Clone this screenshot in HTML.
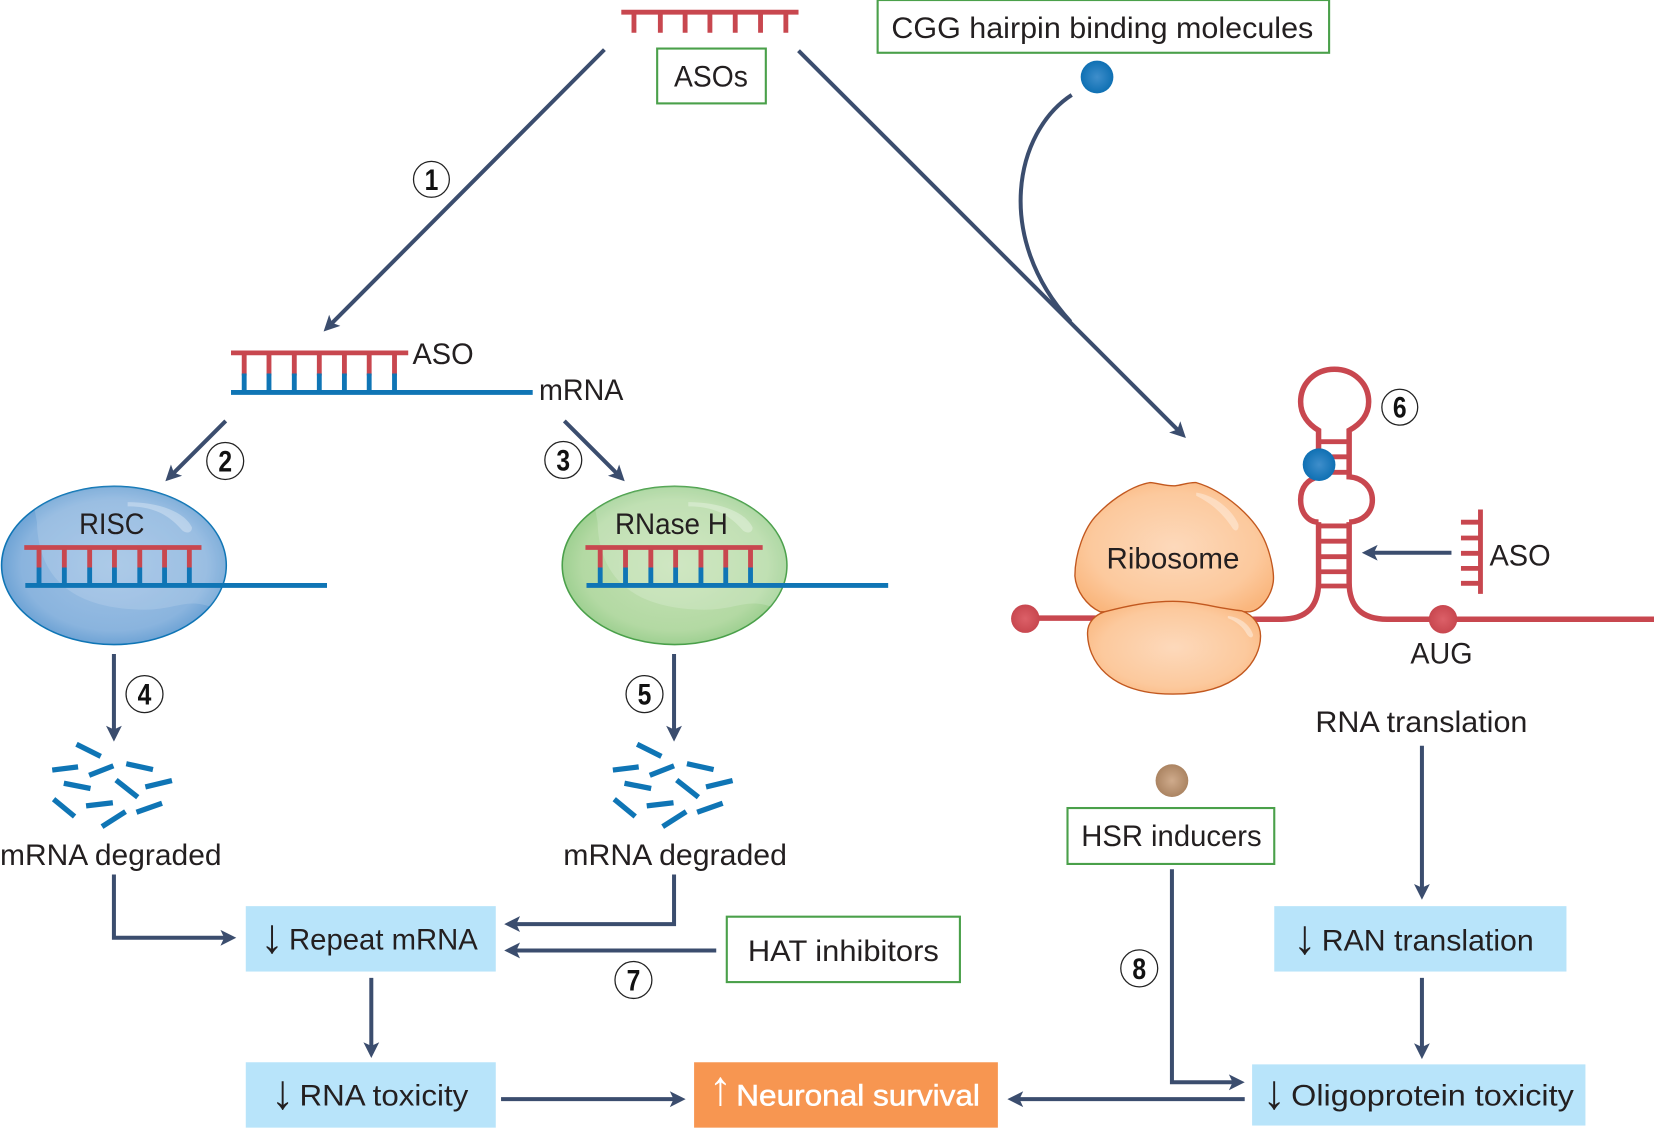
<!DOCTYPE html>
<html>
<head>
<meta charset="utf-8">
<title>ASO diagram</title>
<style>
html,body{margin:0;padding:0;background:#fff;}
svg{display:block;}
text{font-family:"Liberation Sans",sans-serif;font-size:28.5px;fill:#231f20;}
.ar{font-size:46px;}
.n{font-weight:bold;font-size:28px;text-anchor:middle;fill:#111;}
.c{fill:#fff;stroke:#222;stroke-width:1.2;}
.a{fill:none;stroke:#3b4d6e;stroke-width:3.8;marker-end:url(#h);}
.a2{fill:none;stroke:#3b4d6e;stroke-width:3.8;}
.r{stroke:#c8474f;fill:none;stroke-width:4.6;}
.rr{stroke:#c8474f;fill:none;stroke-width:5.2;}
.b{stroke:#0f75b5;fill:none;stroke-width:4.6;}
.g{fill:#fff;stroke:#4aa04a;stroke-width:2;}
</style>
</head>
<body>
<svg width="1654" height="1128" viewBox="0 0 1568 1069.3" xmlns="http://www.w3.org/2000/svg">
<defs>
<marker id="h" markerUnits="userSpaceOnUse" markerWidth="24" markerHeight="24" viewBox="-2 -12 24 24" refX="9" refY="0" orient="auto">
<path d="M0,-7.5 L15,0 L0,7.5 L3.5,0 Z" fill="#3b4d6e"/>
</marker>
<radialGradient id="bl" cx="50%" cy="50%" r="55%">
<stop offset="0" stop-color="#a0c2e5"/><stop offset="0.75" stop-color="#8ab4de"/><stop offset="1" stop-color="#5f9ad0"/>
</radialGradient>
<radialGradient id="gr" cx="50%" cy="50%" r="55%">
<stop offset="0" stop-color="#c6e2b6"/><stop offset="0.75" stop-color="#b3d9a3"/><stop offset="1" stop-color="#93cb88"/>
</radialGradient>
<radialGradient id="or" cx="50%" cy="50%" r="60%">
<stop offset="0" stop-color="#fdd9bb"/><stop offset="0.7" stop-color="#fcc99d"/><stop offset="1" stop-color="#fab67d"/>
</radialGradient>
<radialGradient id="ball" cx="50%" cy="50%" r="50%">
<stop offset="0" stop-color="#3f8ecb"/><stop offset="1" stop-color="#0f70b3"/>
</radialGradient>
<radialGradient id="redb" cx="50%" cy="50%" r="50%">
<stop offset="0" stop-color="#dc6068"/><stop offset="1" stop-color="#c8474f"/>
</radialGradient>
<radialGradient id="tan" cx="50%" cy="50%" r="50%">
<stop offset="0" stop-color="#cfab8c"/><stop offset="1" stop-color="#ab8462"/>
</radialGradient>
<clipPath id="ec"><ellipse cx="108" cy="536" rx="106" ry="75"/></clipPath>

<g id="duplex">
<path class="b" d="M24,555 H310"/>
<path class="r" d="M23,519 H191"/>
<path class="r" d="M37,519 V538 M61,519 V538 M85,519 V538 M108.500,519 V538 M132.500,519 V538 M156,519 V538 M179.500,519 V538"/>
<path class="b" d="M37,538 V555 M61,538 V555 M85,538 V555 M108.500,538 V555 M132.500,538 V555 M156,538 V555 M179.500,538 V555"/>
</g>
<g id="frag" stroke="#0f75b5" stroke-width="5" fill="none">
<path d="M72.500,705.500 L95.500,717 M49.500,730 L74,727 M84.500,735 L107.500,726 M119.700,724 L145,729.500 M60.500,742.500 L85.800,747.500 M110,739.500 L130.600,755.700 M137.800,746 L163,740 M50.800,757.600 L70.700,774 M81.600,764 L107,761 M129.400,770 L153.600,761.500 M96.700,783.600 L119,769.400"/>
</g>
</defs>

<!-- Top ASO -->
<path class="r" d="M589,11.500 H757"/>
<path class="r" d="M601,11 V31 M626,11 V31 M649.500,11 V31 M673,11 V31 M697,11 V31 M721,11 V31 M745,11 V31"/>
<rect class="g" x="623" y="46" width="103" height="52"/>
<text x="639" y="82" textLength="70" lengthAdjust="spacingAndGlyphs">ASOs</text>
<rect class="g" x="832" y="0" width="428" height="50"/>
<text x="845" y="36" textLength="400" lengthAdjust="spacingAndGlyphs">CGG hairpin binding molecules</text>
<ellipse cx="1040" cy="73" rx="15.500" ry="15.500" fill="url(#ball)"/>

<!-- Long arrows -->
<path class="a" d="M573,47 L311,310"/>
<path class="a" d="M757,48 L1120,411"/>
<path class="a2" d="M1016,90 C962,125 942,225 1015,305"/>

<circle class="c" cx="409" cy="170" r="17"/><text class="n" x="409" y="180" textLength="13" lengthAdjust="spacingAndGlyphs">1</text>

<!-- ASO/mRNA duplex -->
<path class="b" d="M219,372 H505"/>
<path class="r" d="M219,334.500 H387"/>
<path class="r" d="M231.500,334 V356 M255,334 V356 M279,334 V356 M302.700,334 V356 M326.500,334 V356 M350,334 V356 M374,334 V356"/>
<path class="b" d="M231.500,354 V372 M255,354 V372 M279,354 V372 M302.700,354 V372 M326.500,354 V372 M350,354 V372 M374,354 V372"/>
<text x="391" y="345" textLength="58" lengthAdjust="spacingAndGlyphs">ASO</text>
<text x="511" y="379" textLength="80" lengthAdjust="spacingAndGlyphs">mRNA</text>

<path class="a" d="M214,399 L161,452"/>
<path class="a" d="M535,399 L588,452"/>
<circle class="c" cx="213.500" cy="437" r="17.500"/><text class="n" x="213.500" y="447" textLength="13" lengthAdjust="spacingAndGlyphs">2</text>
<circle class="c" cx="534" cy="436" r="17.500"/><text class="n" x="534" y="446" textLength="13" lengthAdjust="spacingAndGlyphs">3</text>

<!-- RISC -->
<ellipse cx="108" cy="536" rx="106.500" ry="75" fill="url(#bl)" stroke="#0f75b5" stroke-width="1.500"/>
<g clip-path="url(#ec)">
<path d="M35,495 C36,540 60,577 136,578 C165,578 175,568 196,574 L240,590 L240,440 L25,440 Z" fill="#fff" opacity="0.14"/>
<path d="M121,476 C150,476 175,485 182,500 C182,506 175,506 172,502 C160,488 145,480 121,480 Z" fill="#fff" opacity="0.3"/>
</g>
<use href="#duplex"/>
<text x="75" y="506" textLength="62" lengthAdjust="spacingAndGlyphs">RISC</text>

<!-- RNase H -->
<ellipse cx="639.500" cy="536" rx="106.500" ry="75" fill="url(#gr)" stroke="#4aa04a" stroke-width="1.500"/>
<g clip-path="url(#ec)" transform="translate(531.500,0)">
<path d="M35,495 C36,540 60,577 136,578 C165,578 175,568 196,574 L240,590 L240,440 L25,440 Z" fill="#fff" opacity="0.18"/>
<path d="M121,476 C150,476 175,485 182,500 C182,506 175,506 172,502 C160,488 145,480 121,480 Z" fill="#fff" opacity="0.3"/>
</g>
<use href="#duplex" transform="translate(532,0)"/>
<text x="583" y="506" textLength="107" lengthAdjust="spacingAndGlyphs">RNase H</text>

<path class="a" d="M108,620 V697"/>
<path class="a" d="M639,620 V697"/>
<circle class="c" cx="137" cy="658" r="17.500"/><text class="n" x="137" y="668" textLength="13" lengthAdjust="spacingAndGlyphs">4</text>
<circle class="c" cx="611" cy="658" r="17.500"/><text class="n" x="611" y="668" textLength="13" lengthAdjust="spacingAndGlyphs">5</text>

<use href="#frag"/>
<use href="#frag" transform="translate(531.500,0)"/>
<text x="0" y="820" textLength="210" lengthAdjust="spacingAndGlyphs">mRNA degraded</text>
<text x="534" y="820" textLength="212" lengthAdjust="spacingAndGlyphs">mRNA degraded</text>

<!-- boxes -->
<rect x="233" y="859" width="237" height="62" fill="#b8e4fa"/>
<rect x="233" y="1007" width="237" height="62" fill="#b8e4fa"/>
<rect x="658" y="1007" width="288" height="62" fill="#f79651"/>
<rect x="1187" y="1009" width="316" height="58" fill="#b8e4fa"/>
<rect x="1208" y="859" width="277" height="62" fill="#b8e4fa"/>
<rect class="g" x="689" y="869" width="221" height="62"/>
<rect class="g" x="1012" y="766" width="196" height="53"/>

<text class="ar" x="247" y="903" textLength="22" lengthAdjust="spacingAndGlyphs">↓</text>
<text x="274" y="900" textLength="179" lengthAdjust="spacingAndGlyphs">Repeat mRNA</text>
<text class="ar" x="257" y="1051" textLength="22" lengthAdjust="spacingAndGlyphs">↓</text>
<text x="284" y="1048" textLength="160" lengthAdjust="spacingAndGlyphs">RNA toxicity</text>
<text class="ar" x="672" y="1047" textLength="22" lengthAdjust="spacingAndGlyphs" style="fill:#fff">↑</text>
<text x="698" y="1048" textLength="231" lengthAdjust="spacingAndGlyphs" style="fill:#fff;stroke:#fff;stroke-width:0.5">Neuronal survival</text>
<text class="ar" x="1226" y="904" textLength="22" lengthAdjust="spacingAndGlyphs">↓</text>
<text x="1253" y="901" textLength="201" lengthAdjust="spacingAndGlyphs">RAN translation</text>
<text class="ar" x="1197" y="1051" textLength="22" lengthAdjust="spacingAndGlyphs">↓</text>
<text x="1224" y="1048" textLength="268" lengthAdjust="spacingAndGlyphs">Oligoprotein toxicity</text>
<text x="709" y="911" textLength="181" lengthAdjust="spacingAndGlyphs">HAT inhibitors</text>
<text x="1025" y="802" textLength="171" lengthAdjust="spacingAndGlyphs">HSR inducers</text>
<text x="1247" y="694" textLength="201" lengthAdjust="spacingAndGlyphs">RNA translation</text>

<!-- lower arrows -->
<path class="a" d="M108,829 V889 H218"/>
<path class="a" d="M639,829 V876 H484"/>
<path class="a" d="M679,901 H484"/>
<path class="a" d="M352,927 V997"/>
<path class="a" d="M475,1042 H644"/>
<path class="a" d="M1180,1042 H961"/>
<path class="a" d="M1111,824 V1026 H1174"/>
<path class="a" d="M1348,707 V847"/>
<path class="a" d="M1348,927 V998"/>
<circle class="c" cx="600.500" cy="929" r="17.500"/><text class="n" x="600.500" y="939" textLength="13" lengthAdjust="spacingAndGlyphs">7</text>
<circle class="c" cx="1080" cy="918" r="17.500"/><text class="n" x="1080" y="928" textLength="13" lengthAdjust="spacingAndGlyphs">8</text>
<ellipse cx="1111" cy="740" rx="15.500" ry="15.500" fill="url(#tan)"/>

<!-- RNA strand and hairpin -->
<path class="rr" d="M972,586 H1040"/>
<path class="rr" d="M1185,587 H1215 Q1250,587 1250,552 V495"/>
<path class="rr" d="M1279,495 V552 Q1279,587 1315,587 H1568"/>
<path class="r" d="M1250,498.600 H1279 M1250,513 H1279 M1250,527.700 H1279 M1250,542 H1279 M1250,555.500 H1279"/>
<path class="rr" d="M1250,495 C1240,495 1233,486 1233,474 C1233,462 1240,454 1250,452 V408 C1240,402 1233,393 1233,381 C1233,363 1247,350 1265,350 C1283,350 1297.500,363 1297.500,381 C1297.500,393 1290,402 1279,408 V452 C1292,453 1301,462 1301,474 C1301,486 1292,494 1279,495"/>
<path class="r" d="M1250,418.700 H1279 M1250,433 H1279 M1250,447.700 H1279"/>
<ellipse cx="1250.500" cy="440.500" rx="15.500" ry="15.500" fill="url(#ball)"/>
<ellipse cx="972" cy="586.500" rx="13.500" ry="13.500" fill="url(#redb)"/>
<ellipse cx="1368" cy="587" rx="13.500" ry="13.500" fill="url(#redb)"/>
<circle class="c" cx="1327" cy="386" r="17"/><text class="n" x="1327" y="396" textLength="13" lengthAdjust="spacingAndGlyphs">6</text>

<!-- side ASO -->
<path class="r" d="M1403.500,483 V563"/>
<path class="r" d="M1385,495 H1403 M1385,510 H1403 M1385,524.500 H1403 M1385,538.800 H1403 M1385,553 H1403"/>
<path class="a" d="M1376,524 H1297"/>
<text x="1412" y="536" textLength="58" lengthAdjust="spacingAndGlyphs">ASO</text>
<text x="1337" y="629" textLength="59" lengthAdjust="spacingAndGlyphs">AUG</text>

<!-- Ribosome -->
<path d="M1090,457.500 C1098,458 1106,461 1114,460.500 C1120,460 1127,457 1134,457.500 C1160,465 1190,490 1200,515 C1206,530 1208,545 1207,552 C1205,565 1196,578 1185,580 L1043,580 C1030,574 1020,560 1019,546 C1019,525 1028,500 1040,488 C1055,472 1075,460 1090,457.500 Z" fill="url(#or)" stroke="#c2581f" stroke-width="1.300"/>
<path d="M1134,467 C1155,470 1170,487 1174,497 C1175,503 1171,505 1168,500 C1160,488 1150,478 1134,470 Z" fill="#fff" opacity="0.35"/>
<path d="M1047,580 C1070,574 1090,570 1112,570 C1135,570 1155,577 1177,579 C1188,583 1195,592 1195,603 C1195,625 1175,658 1112,658 C1050,658 1031,625 1031,600 C1031,590 1038,583 1047,580 Z" fill="url(#or)" stroke="#c2581f" stroke-width="1.300"/>
<path d="M1164,584 C1175,585 1185,592 1188,602 C1187,606 1184,604 1182,601 C1178,594 1172,589 1164,586 Z" fill="#fff" opacity="0.4"/>
<text x="1049" y="539" textLength="126" lengthAdjust="spacingAndGlyphs">Ribosome</text>
</svg>
</body>
</html>
